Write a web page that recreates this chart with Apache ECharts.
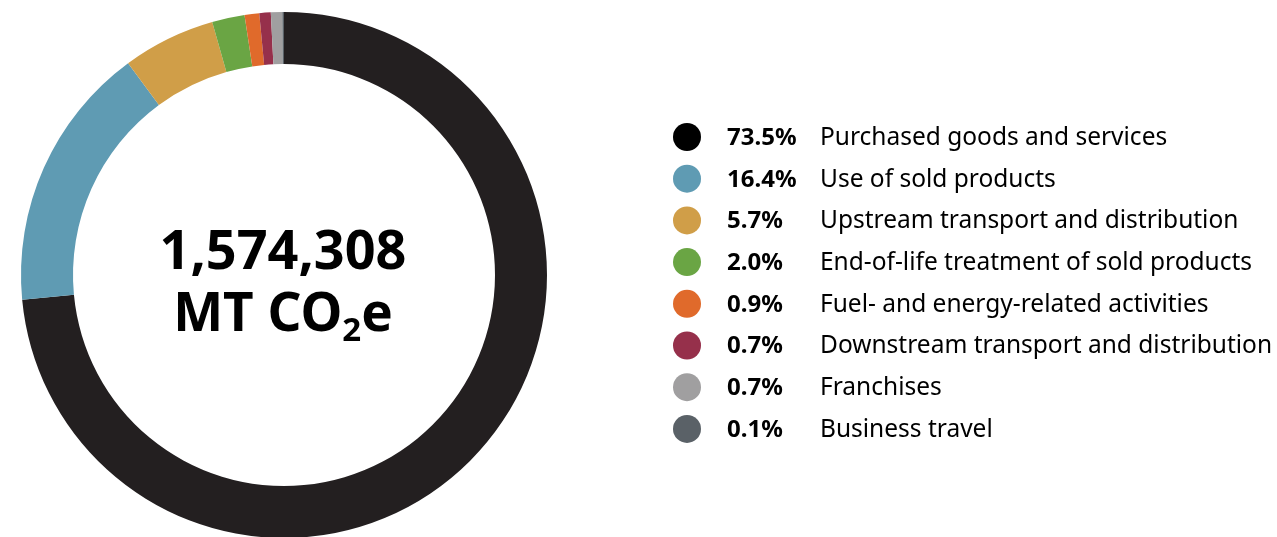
<!DOCTYPE html>
<html>
<head>
<meta charset="utf-8">
<script src="https://cdn.jsdelivr.net/npm/echarts@6/dist/echarts.min.js"></script>
<style>
  html, body { margin: 0; padding: 0; background: #ffffff; }
  #chart { width: 1277px; height: 537px; }
</style>
</head>
<body>
<div id="chart"></div>
<script>
// Scope 3 emission categories and their share of the total (%)
const categories = [
  'Purchased goods and services',
  'Use of sold products',
  'Upstream transport and distribution',
  'End-of-life treatment of sold products',
  'Fuel- and energy-related activities',
  'Downstream transport and distribution',
  'Franchises',
  'Business travel'
];
const shares = [73.5, 16.4, 5.7, 2.0, 0.9, 0.7, 0.7, 0.1];
const colors = ['#231f20', '#5f9bb3', '#d09e48', '#6aa544', '#e06a2b', '#96304b', '#a09fa0', '#5a6167'];
const legendColors = ['#000000', '#5f9bb3', '#d09e48', '#6aa544', '#e06a2b', '#96304b', '#a09fa0', '#5a6167'];
const totalLabel = '1,574,308';
const unitLabel = ['MT CO', '2', 'e'];

const shareByName = {};
categories.forEach((c, i) => { shareByName[c] = shares[i]; });

const chart = echarts.init(document.getElementById('chart'), null, { renderer: 'canvas' });

chart.setOption({
  animation: false,
  backgroundColor: '#ffffff',
  color: colors,
  legend: {
    orient: 'vertical',
    left: 673,
    top: 123,
    padding: 0,
    icon: 'circle',
    itemWidth: 28,
    itemHeight: 28,
    itemGap: 13.7,
    selectedMode: false,
    data: categories.map((c, i) => ({ name: c, itemStyle: { color: legendColors[i] } })),
    formatter: name => '{p|' + shareByName[name].toFixed(1) + '%}{n|' + name + '}',
    textStyle: {
      rich: {
        p: {
          fontFamily: 'Noto Sans',
          fontWeight: 'bold',
          fontSize: 24,
          color: '#000000',
          width: 93,
          padding: [2, 0, 0, 21],
          lineHeight: 28
        },
        n: {
          fontFamily: 'Noto Sans',
          fontSize: 24.5,
          color: '#000000',
          lineHeight: 28,
          padding: [2, 0, 0, 0]
        }
      }
    }
  },
  series: [{
    type: 'pie',
    center: [284, 275],
    radius: [211, 263],
    startAngle: 90,
    clockwise: true,
    silent: true,
    label: { show: false },
    labelLine: { show: false },
    emphasis: { disabled: true },
    itemStyle: { borderWidth: 0 },
    data: categories.map((c, i) => ({ name: c, value: shares[i] }))
  }],
  graphic: [{
    type: 'text',
    silent: true,
    style: {
      x: 283,
      y: 285,
      align: 'center',
      verticalAlign: 'middle',
      text: '{n|' + totalLabel + '}\n{u|' + unitLabel[0] + '}{s|' + unitLabel[1] + '}{u|' + unitLabel[2] + '}',
      rich: {
        n: { fontFamily: 'Noto Sans', fontWeight: 'bold', fontSize: 54, lineHeight: 62, fill: '#000000' },
        u: { fontFamily: 'Noto Sans', fontWeight: 'bold', fontSize: 53, lineHeight: 62, fill: '#000000' },
        s: { fontFamily: 'Noto Sans', fontWeight: 'bold', fontSize: 33, lineHeight: 30, padding: [30, 0, 0, 0], verticalAlign: 'top', fill: '#000000' }
      }
    }
  }]
});
</script>
</body>
</html>
